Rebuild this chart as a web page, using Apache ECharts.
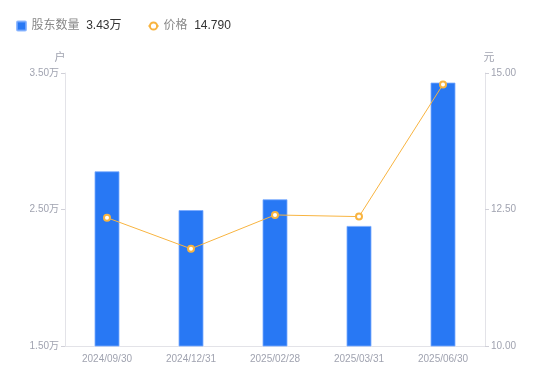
<!DOCTYPE html>
<html>
<head>
<meta charset="utf-8">
<script src="https://cdn.jsdelivr.net/npm/echarts@6/dist/echarts.min.js"></script>
<style>
  html, body { margin: 0; padding: 0; background: #fff; }
  #chart { width: 550px; height: 381px; }
</style>
</head>
<body>
<div id="chart"></div>
<script>
// Données du graphique
const dates = ['2024/09/30', '2024/12/31', '2025/02/28', '2025/03/31', '2025/06/30'];
const holders = [27800, 24960, 25750, 23800, 34300]; // nombre d'actionnaires (户)
const prices = [12.35, 11.78, 12.40, 12.37, 14.79]; // prix (元)
const holderTicks = [15000, 25000, 35000];
const priceTicks = [10, 12.5, 15];

const chart = echarts.init(document.getElementById('chart'), null, { renderer: 'canvas' });

const lastHolder = (holders[holders.length - 1] / 10000).toFixed(2) + '万';
const lastPrice = prices[prices.length - 1].toFixed(3);

const option = {
  animation: false,
  textStyle: { fontFamily: '"Liberation Sans", "Noto Sans CJK SC", sans-serif' },
  legend: {
    left: 11,
    top: 15,
    itemWidth: 10,
    itemHeight: 9,
    itemGap: 26,
    data: [
      { name: '股东数量', icon: 'path://M1,0H9A1,1 0 0 1 10,1V9A1,1 0 0 1 9,10H1A1,1 0 0 1 0,9V1A1,1 0 0 1 1,0Z' },
      { name: '价格' }
    ],
    formatter: function (name) {
      const v = name === '股东数量' ? lastHolder : lastPrice;
      return '{n|' + name + '}  {v|' + v + '}';
    },
    textStyle: {
      rich: {
        n: { color: '#888', fontSize: 12 },
        v: { color: '#333', fontSize: 12 }
      }
    }
  },
  grid: { left: 65, right: 65, top: 73, bottom: 35 },
  xAxis: {
    type: 'category',
    data: dates,
    axisLine: { lineStyle: { color: '#e3e3e8' } },
    axisTick: { show: false },
    axisLabel: { color: '#a0a3b0', fontSize: 10, margin: 8 }
  },
  yAxis: [
    {
      type: 'value',
      name: '户',
      nameGap: 10,
      nameTextStyle: { color: '#a0a3b0', fontSize: 11, padding: [0, 0, 0, -10] },
      min: holderTicks[0],
      max: holderTicks[holderTicks.length - 1],
      interval: holderTicks[1] - holderTicks[0],
      axisLine: { show: true, lineStyle: { color: '#e3e3e8' } },
      axisTick: { show: true, length: 4, lineStyle: { color: '#d0d0d8' } },
      splitLine: { show: false },
      axisLabel: {
        color: '#a0a3b0', fontSize: 10, margin: 6,
        formatter: v => (v / 10000).toFixed(2) + '万'
      }
    },
    {
      type: 'value',
      name: '元',
      nameGap: 10,
      nameTextStyle: { color: '#a0a3b0', fontSize: 11, padding: [0, 0, 0, 8] },
      min: priceTicks[0],
      max: priceTicks[priceTicks.length - 1],
      interval: priceTicks[1] - priceTicks[0],
      axisLine: { show: true, lineStyle: { color: '#e3e3e8' } },
      axisTick: { show: true, length: 4, lineStyle: { color: '#d0d0d8' } },
      splitLine: { show: false },
      axisLabel: {
        color: '#a0a3b0', fontSize: 10, margin: 6,
        formatter: v => v.toFixed(2)
      }
    }
  ],
  series: [
    {
      name: '股东数量',
      type: 'bar',
      yAxisIndex: 0,
      data: holders,
      barWidth: 25,
      itemStyle: { color: '#2878f4', borderColor: 'rgba(120,170,255,0.8)', borderWidth: 1 }
    },
    {
      name: '价格',
      type: 'line',
      yAxisIndex: 1,
      data: prices,
      symbol: 'circle',
      symbolSize: 6,
      lineStyle: { color: '#f8b440', width: 1 },
      itemStyle: { color: '#fff', borderColor: '#f8b440', borderWidth: 2 }
    }
  ]
};

chart.setOption(option);
window.addEventListener('resize', chart.resize);
</script>
</body>
</html>
